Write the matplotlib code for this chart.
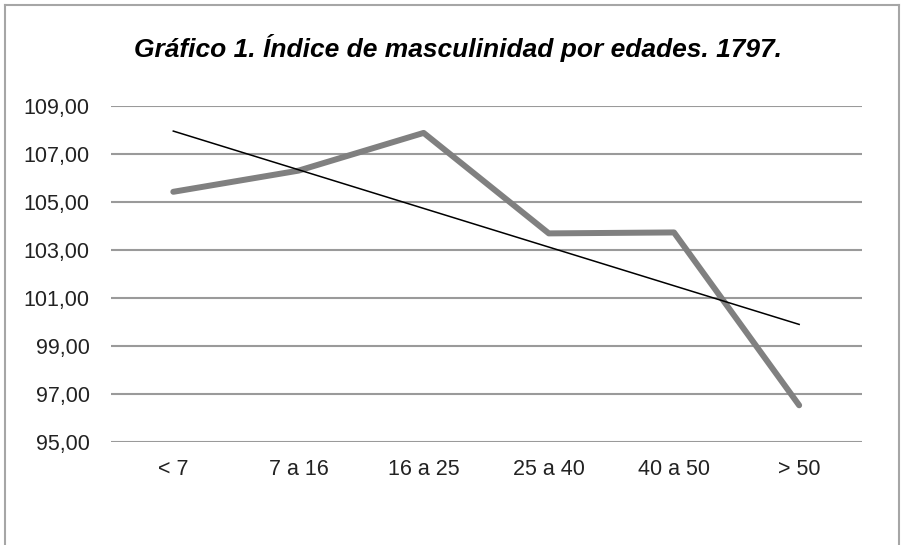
import matplotlib.pyplot as plt
import numpy as np
from matplotlib.lines import Line2D

plt.rcParams['font.family'] = ['Liberation Sans', 'DejaVu Sans']

edades = ['< 7', '7 a 16', '16 a 25', '25 a 40', '40 a 50', '> 50']
indice = [105.42, 106.30, 107.87, 103.69, 103.73, 96.54]
yticks = [95, 97, 99, 101, 103, 105, 107, 109]

fig = plt.figure(figsize=(9.03, 5.45), dpi=100)
ax = fig.add_axes([0.1226, 0.1884, 0.8317, 0.6176])

x = np.arange(len(edades))
ax.plot(x, indice, color='#808080', lw=4.3, solid_capstyle='round', zorder=3)

# linea de tendencia lineal
z = np.polyfit(x, indice, 1)
p = np.poly1d(z)
ax.plot(x, p(x), color='black', lw=1.1, zorder=4)

ax.set_xlim(-0.5, len(edades) - 0.5)
ax.set_ylim(95, 109)
ax.set_yticks(yticks)
ax.set_yticklabels(['{:.2f}'.format(v).replace('.', ',') for v in yticks])
ax.set_xticks(x)
ax.set_xticklabels(edades)
ax.yaxis.grid(True, color='#9a9a9a', lw=1.5)
ax.set_axisbelow(True)
for s in ax.spines.values():
    s.set_visible(False)
ax.tick_params(axis='both', length=0, labelsize=15.5, colors='#222222')
ax.tick_params(axis='y', pad=15)
ax.tick_params(axis='x', pad=12)

fig.text(0.507, 0.8954, 'Gráfico 1. Índice de masculinidad por edades. 1797.',
         ha='center', va='baseline', fontsize=19, fontweight='bold', fontstyle='italic')

# marco del grafico
frame = dict(color='#a6a6a6', lw=1.5, transform=fig.transFigure)
fig.add_artist(Line2D([0.0055, 0.0055], [0, 0.991], **frame))
fig.add_artist(Line2D([0.0055, 0.9956], [0.991, 0.991], **frame))
fig.add_artist(Line2D([0.9956, 0.9956], [0, 0.991], **frame))

plt.savefig('out.png', dpi=100)
